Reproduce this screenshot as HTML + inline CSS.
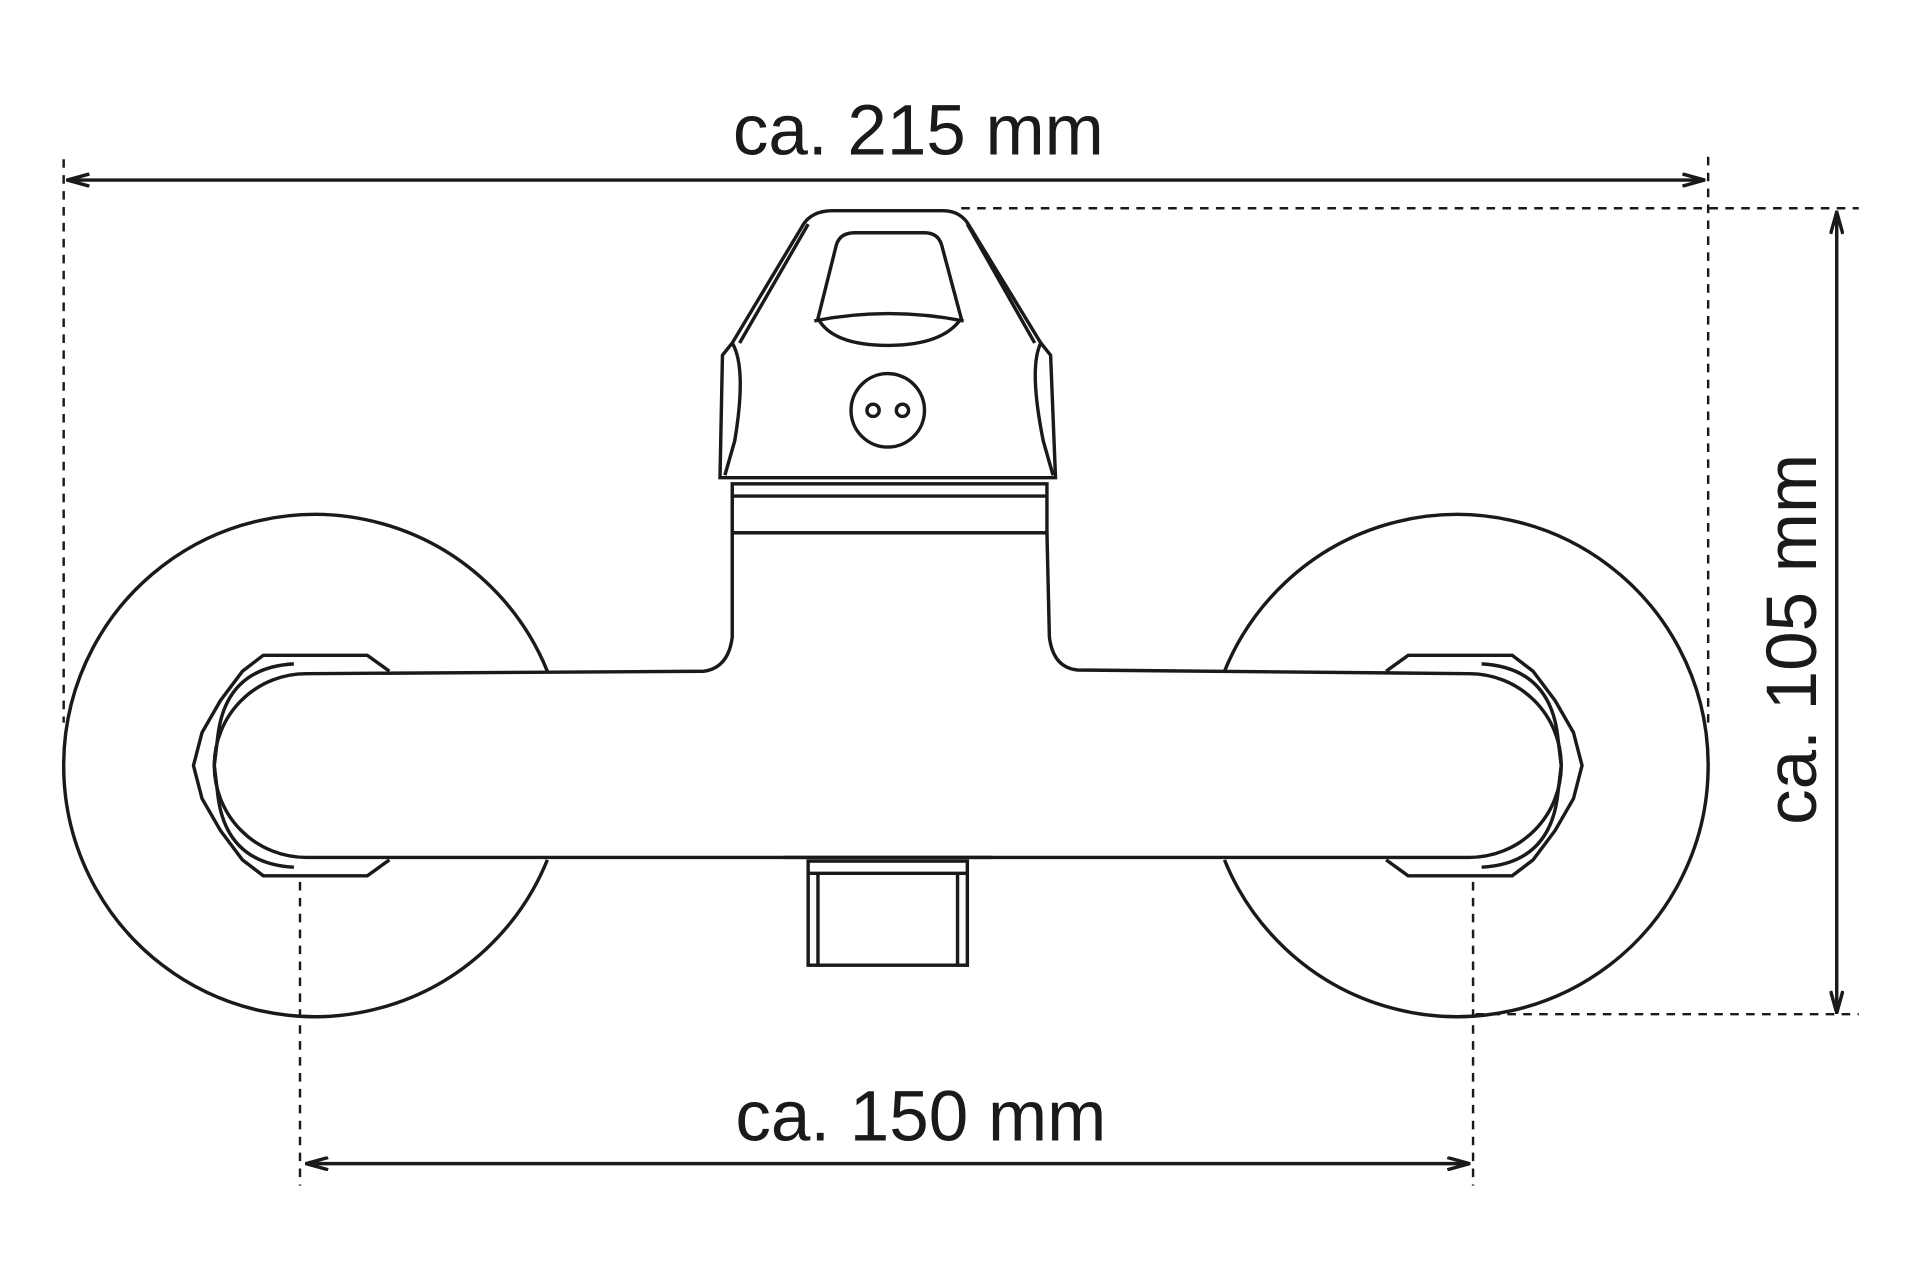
<!DOCTYPE html>
<html><head><style>html,body{margin:0;padding:0;background:#fff}svg{display:block}</style></head>
<body>
<svg width="1920" height="1280" viewBox="0 0 1568 1045" preserveAspectRatio="none" xmlns="http://www.w3.org/2000/svg">
<defs>
<marker id="a" viewBox="0 0 20 12" refX="19" refY="6" markerWidth="20" markerHeight="12" markerUnits="userSpaceOnUse" orient="auto-start-reverse">
<path d="M1 1 L19 6 L1 11" fill="none" stroke="#1a1a1a" stroke-width="2.8"/>
</marker>
</defs>
<g fill="none" stroke="#1a1a1a" stroke-width="2.8">
<g stroke-dasharray="7,6" stroke-width="2">
<line x1="52" y1="130" x2="52" y2="590"/>
<line x1="1395" y1="128" x2="1395" y2="590"/>
<line x1="785" y1="170" x2="1518" y2="170"/>
<line x1="1205" y1="828" x2="1518" y2="828"/>
<line x1="245" y1="720" x2="245" y2="968"/>
<line x1="1203" y1="720" x2="1203" y2="968"/>
</g>
<line x1="55" y1="147" x2="1392" y2="147" marker-start="url(#a)" marker-end="url(#a)"/>
<line x1="1500" y1="173" x2="1500" y2="827" marker-start="url(#a)" marker-end="url(#a)"/>
<line x1="250" y1="950" x2="1200" y2="950" marker-start="url(#a)" marker-end="url(#a)"/>
<path d="M447 548 A205 205 0 1 0 447 702"/>
<path d="M1000 548 A205 205 0 1 1 1000 702"/>
<path d="M250 550 L575 548 Q595 545 598 520 L598 435 L855 435 L857 520 Q860 545 880 547 L1200 550 A75 75 0 0 1 1200 700 L790 700 L660 700 L250 700 A75 75 0 0 1 250 550 Z" fill="#fff"/>
<line x1="640" y1="700" x2="810" y2="700"/>
<rect x="598" y="395" width="257" height="40"/>
<line x1="598" y1="405" x2="855" y2="405"/>
<path d="M588 390 L590 290 L598 280 L655 185 Q662 172 680 172 L770 172 Q785 172 792 185 L850 280 L858 290 L862 390 Z" fill="#fff"/>
<path d="M598 280 Q610 300 600 360 L592 388"/>
<path d="M850 280 Q840 300 852 360 L860 388"/>
<path d="M604 280 L660 183"/>
<path d="M845 280 L790 183"/>
<path d="M668 260 L683 200 Q686 190 698 190 L755 190 Q766 190 769 200 L785 260 Q770 282 725 282 Q680 282 668 260 Z"/>
<path d="M665 262 Q725 250 787 262"/>
<circle cx="725" cy="335" r="30"/>
<circle cx="713" cy="335" r="5"/>
<circle cx="737" cy="335" r="5"/>
<rect x="660" y="703" width="130" height="85"/>
<line x1="660" y1="713" x2="790" y2="713"/>
<line x1="668" y1="713" x2="668" y2="788"/>
<line x1="782" y1="713" x2="782" y2="788"/>
<path d="M318 548 L300 535 L215 535 L198 548 L180 572 L165 598 L158 625 L165 652 L180 678 L198 702 L215 715 L300 715 L318 702"/>
<path d="M240 542 Q185 545 178 600 L175 625 L178 650 Q185 705 240 708"/>
<path d="M1132 548 L1150 535 L1235 535 L1252 548 L1270 572 L1285 598 L1292 625 L1285 652 L1270 678 L1252 702 L1235 715 L1150 715 L1132 702"/>
<path d="M1210 542 Q1265 545 1272 600 L1275 625 L1272 650 Q1265 705 1210 708"/>
</g>
<g font-family="Liberation Sans, sans-serif" font-size="58" fill="#1a1a1a" text-anchor="middle">
<text x="750" y="126">ca. 215 mm</text>
<text x="752" y="931">ca. 150 mm</text>
<text x="0" y="0" transform="translate(1483,522) rotate(-90)">ca. 105 mm</text>
</g>
</svg>
</body></html>
